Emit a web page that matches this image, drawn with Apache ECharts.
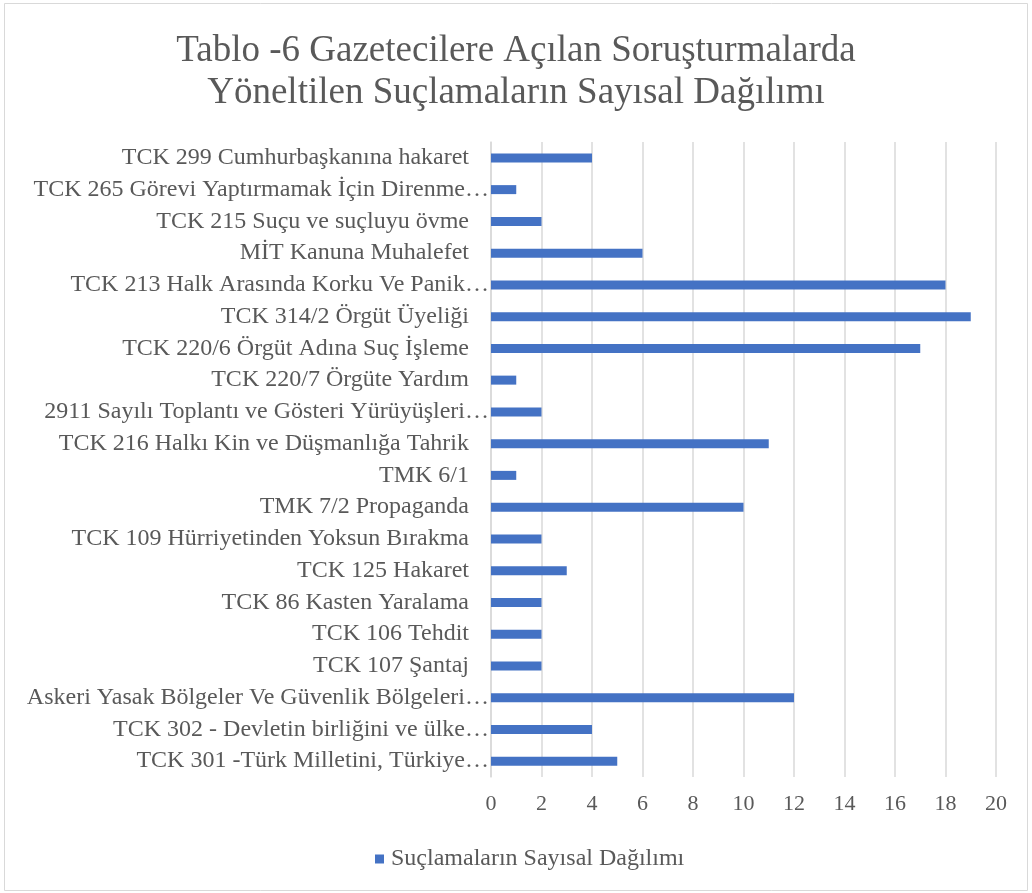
<!DOCTYPE html>
<html>
<head>
<meta charset="utf-8">
<script src="https://cdn.jsdelivr.net/npm/echarts@6/dist/echarts.min.js"></script>
<style>
  html, body { margin: 0; padding: 0; background: #fff; }
  #chart { width: 1032px; height: 893px; }
</style>
</head>
<body>
<div id="chart"></div>
<script>
// kategoriler (yukarıdan aşağıya)
let categories = [
  'TCK 299 Cumhurbaşkanına hakaret',
  'TCK 265 Görevi Yaptırmamak İçin Direnme…',
  'TCK 215 Suçu ve suçluyu övme',
  'MİT Kanuna Muhalefet',
  'TCK 213 Halk Arasında Korku Ve Panik…',
  'TCK 314/2 Örgüt Üyeliği',
  'TCK 220/6 Örgüt Adına Suç İşleme',
  'TCK 220/7 Örgüte Yardım',
  '2911 Sayılı Toplantı ve Gösteri Yürüyüşleri…',
  'TCK 216 Halkı Kin ve Düşmanlığa Tahrik',
  'TMK 6/1',
  'TMK 7/2 Propaganda',
  'TCK 109 Hürriyetinden Yoksun Bırakma',
  'TCK 125 Hakaret',
  'TCK 86 Kasten Yaralama',
  'TCK 106 Tehdit',
  'TCK 107 Şantaj',
  'Askeri Yasak Bölgeler Ve Güvenlik Bölgeleri…',
  'TCK 302 - Devletin birliğini ve ülke…',
  'TCK 301 -Türk Milletini, Türkiye…'
]
let values = [4, 1, 2, 6, 18, 19, 17, 1, 2, 11, 1, 10, 2, 3, 2, 2, 2, 12, 4, 5]
let seriesName = 'Suçlamaların Sayısal Dağılımı'
let titleText = 'Tablo -6 Gazetecilere Açılan Soruşturmalarda\nYöneltilen Suçlamaların Sayısal Dağılımı'

let serif = 'Liberation Serif'
let textColor = '#595959'
let lineColor = '#d9d9d9'

let myChart = echarts.init(document.getElementById('chart'))
let option = {
  backgroundColor: '#fff',
  animation: false,
  title: {
    text: titleText,
    left: 'center',
    top: 25,
    textStyle: {
      fontFamily: serif,
      fontSize: 37,
      fontWeight: 'normal',
      color: textColor,
      lineHeight: 42
    }
  },
  graphic: [{
    type: 'rect',
    shape: { x: 4.5, y: 3.5, width: 1023, height: 887 },
    style: { fill: 'none', stroke: lineColor, lineWidth: 1 },
    silent: true
  }],
  legend: {
    top: 842,
    left: 370,
    icon: 'rect',
    itemWidth: 9,
    itemHeight: 9,
    itemGap: 8,
    textStyle: { fontFamily: serif, fontSize: 24, color: textColor, padding: [0, 0, 0, 2] }
  },
  grid: {
    left: 491,
    right: 36,
    top: 142,
    bottom: 116,
    containLabel: false
  },
  xAxis: {
    type: 'value',
    min: 0,
    max: 20,
    interval: 2,
    axisLine: { show: false },
    axisTick: { show: false },
    axisLabel: {
      margin: 16,
      fontFamily: serif,
      fontSize: 22,
      color: textColor
    },
    splitLine: { lineStyle: { color: lineColor, width: 1.5 } }
  },
  yAxis: {
    type: 'category',
    inverse: true,
    data: categories,
    axisLine: { lineStyle: { color: lineColor, width: 1.5 } },
    axisTick: { length: 5, lineStyle: { color: lineColor, width: 1.5 } },
    axisLabel: {
      margin: 2,
      fontFamily: serif,
      fontSize: 24,
      color: textColor,
      formatter: function (v) {
        return v.endsWith('…') ? '{a|' + v + '}' : '{b|' + v + '}'
      },
      rich: {
        a: { fontFamily: serif, fontSize: 24, color: textColor },
        b: { fontFamily: serif, fontSize: 24, color: textColor, padding: [0, 20, 0, 0] }
      }
    }
  },
  series: [{
    name: seriesName,
    type: 'bar',
    data: values,
    barWidth: 9,
    itemStyle: { color: '#4472c4' }
  }]
}
myChart.setOption(option)
</script>
</body>
</html>
